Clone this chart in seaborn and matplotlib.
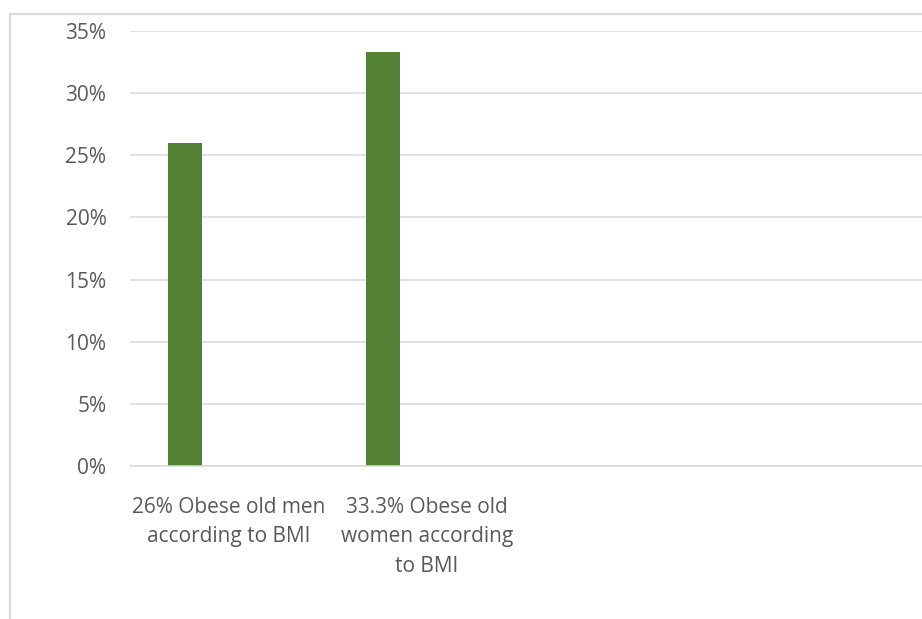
import matplotlib
matplotlib.use("Agg")
import matplotlib.pyplot as plt
from matplotlib.patches import Rectangle
from matplotlib.ticker import PercentFormatter
import seaborn as sns
import pandas as pd

# Category labels (the last two slots are unlabelled)
categories = [
    "26% Obese old men\naccording to BMI",
    "33.3% Obese old\nwomen according\nto BMI",
    " ",
    "  ",
]
# Share of obese elderly per category (primary series), second series is empty
series_names = ["Obese", "Other"]
obese_values = [0.26, 0.333, 0.0, 0.0]
other_values = [0.0, 0.0, 0.0, 0.0]
y_ticks = [0.0, 0.05, 0.10, 0.15, 0.20, 0.25, 0.30, 0.35]

df = pd.DataFrame({
    "category": categories * 2,
    "series": [series_names[0]] * 4 + [series_names[1]] * 4,
    "value": obese_values + other_values,
})

sns.set_theme(style="white")
plt.rcParams["font.family"] = ["Open Sans", "DejaVu Sans"]

W, H = 922, 619
fig = plt.figure(figsize=(W / 100, H / 100), dpi=100)
ax = fig.add_axes([130 / W, 1 - 466 / H, (W - 130) / W, (466 - 31) / H])

sns.barplot(
    data=df, x="category", y="value", hue="series",
    order=categories, hue_order=series_names,
    palette=["#548235", "#A5A5A5"], width=0.89, gap=0.615,
    dodge=True, legend=False, errorbar=None, ax=ax, saturation=1,
    linewidth=0,
)

ax.set_ylim(0, 0.35)
ax.set_xlim(-0.5, len(categories) - 0.5)
ax.set_yticks(y_ticks)
ax.yaxis.set_major_formatter(PercentFormatter(1.0, decimals=0))
ax.grid(axis="y", color="#D9D9D9", linewidth=1.1)
ax.set_axisbelow(True)
for side in ["top", "right", "left"]:
    ax.spines[side].set_visible(False)
ax.spines["bottom"].set_color("#D9D9D9")
ax.spines["bottom"].set_linewidth(1.1)
ax.set_xlabel("")
ax.set_ylabel("")
ax.tick_params(axis="both", length=0, labelsize=15, labelcolor="#595959")
ax.tick_params(axis="y", pad=17)
ax.tick_params(axis="x", pad=22)
for lbl in ax.get_xticklabels():
    lbl.set_linespacing(1.55)

# Chart-area border (extends past the right and bottom edges)
top = 1 - 14 / H
fig.patches.append(Rectangle((10 / W, -0.2), 1.2, top + 0.2, transform=fig.transFigure,
                             fill=False, edgecolor="#D9D9D9", linewidth=1.6))

fig.savefig("out.png", dpi=100, facecolor="white")
